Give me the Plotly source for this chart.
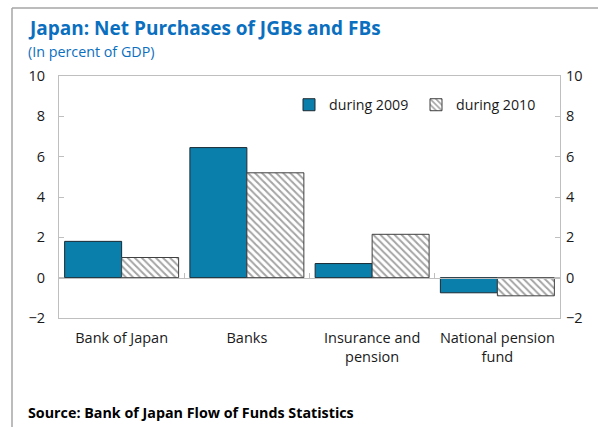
import plotly.graph_objects as go

# Net purchases of JGBs and FBs, in percent of GDP
categories = ["Bank of Japan", "Banks", "Insurance and<br>pension", "National pension<br>fund"]
during_2009 = [1.8, 6.45, 0.7, -0.75]
during_2010 = [1.0, 5.2, 2.15, -0.9]
y_ticks = [-2, 0, 2, 4, 6, 8, 10]

BLUE = "#0B7FAB"
TITLE_BLUE = "#0B6FC0"
GRID = "#BFBFBF"
FONT = "Open Sans, Noto Sans, sans-serif"

fig = go.Figure()
fig.add_trace(go.Bar(
    x=categories, y=during_2009, name="during 2009",
    marker=dict(color=BLUE, line=dict(color="#1a2a33", width=1)),
))
fig.add_trace(go.Bar(
    x=categories, y=during_2010, name="during 2010",
    marker=dict(color="white", line=dict(color="#404040", width=1),
                pattern=dict(shape="\\", fgcolor="#4a4a4a", bgcolor="white",
                             size=5, solidity=0.4)),
))
# invisible helpers so the zero-line axis and the right axis are drawn
fig.add_trace(go.Scatter(x=categories, y=[None] * len(categories), xaxis="x2",
                         showlegend=False, hoverinfo="skip"))
fig.add_trace(go.Scatter(x=categories, y=[None] * len(categories), yaxis="y2",
                         showlegend=False, hoverinfo="skip"))

yrange = [-2, 10]
fig.update_layout(
    width=598, height=427,
    margin=dict(l=59, r=38, t=76, b=109),
    paper_bgcolor="white", plot_bgcolor="white",
    font=dict(family=FONT, size=13, color="#1a1a1a"),
    barmode="group", bargap=0.09, bargroupgap=0,
    showlegend=True,
    legend=dict(orientation="h", x=(289 - 59) / 501, y=(318 - 105) / 242,
                xanchor="left", yanchor="middle", font=dict(size=14.2),
                itemwidth=30, entrywidth=82, entrywidthmode="pixels",
                bgcolor="rgba(0,0,0,0)", traceorder="normal"),
    xaxis=dict(type="category", range=[-0.5, 3.5], showline=True, linecolor=GRID,
               linewidth=1, mirror=True, ticks="", showgrid=False,
               tickfont=dict(size=14.5), ticklabelstandoff=7),
    xaxis2=dict(type="category", overlaying="x", anchor="free", position=2 / 12,
                range=[-0.5, 3.5], showline=True, linecolor=GRID, linewidth=1,
                tickson="boundaries", ticks="inside", ticklen=5, tickcolor=GRID,
                showticklabels=False, showgrid=False),
    yaxis=dict(range=yrange, tickvals=y_ticks, showline=True, linecolor=GRID,
               linewidth=1, mirror=True, ticks="inside", ticklen=5, tickcolor=GRID,
               showgrid=False, zeroline=False, tickfont=dict(size=14.5),
               ticklabelstandoff=10),
    yaxis2=dict(range=yrange, tickvals=y_ticks, overlaying="y", side="right",
                ticks="inside", ticklen=5, tickcolor=GRID, showgrid=False,
                zeroline=False, showline=False, tickfont=dict(size=14.5),
                ticklabelstandoff=5),
)

# title, subtitle and source
fig.add_annotation(text="<b>Japan: Net Purchases of JGBs and FBs</b>", xref="paper",
                   yref="paper", x=(26 - 59) / 501, y=(318 - 28) / 242, xanchor="left",
                   yanchor="middle", showarrow=False,
                   font=dict(size=19, color=TITLE_BLUE, family=FONT))
fig.add_annotation(text="(In percent of GDP)", xref="paper", yref="paper",
                   x=(26 - 59) / 501, y=(318 - 51) / 242, xanchor="left",
                   yanchor="middle", showarrow=False,
                   font=dict(size=14.3, color=TITLE_BLUE, family=FONT))
fig.add_annotation(text="<b>Source: Bank of Japan Flow of Funds Statistics</b>",
                   xref="paper", yref="paper", x=(26 - 59) / 501,
                   y=(318 - 412) / 242, xanchor="left", yanchor="middle",
                   showarrow=False, font=dict(size=14.3, color="black", family=FONT))

# outer frame (top and left edges)
fx = (12 - 59) / 501
fy = (318 - 8) / 242
fig.add_shape(type="line", xref="paper", yref="paper", x0=fx, x1=(600 - 59) / 501,
              y0=fy, y1=fy, line=dict(color="#A6A6A6", width=1.5))
fig.add_shape(type="line", xref="paper", yref="paper", x0=fx, x1=fx,
              y0=fy, y1=(318 - 430) / 242, line=dict(color="#A6A6A6", width=1.5))

fig.write_html("out.html")
